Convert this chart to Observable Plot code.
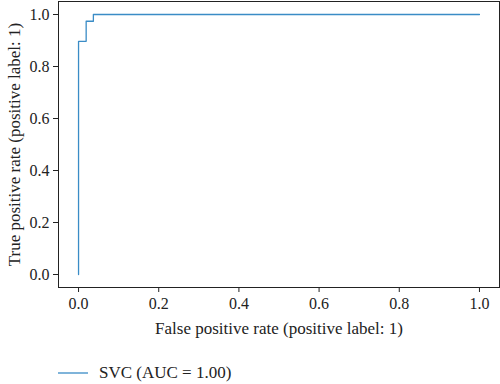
<!DOCTYPE html>
<html>
<head>
<meta charset="utf-8">
<script src="https://cdn.jsdelivr.net/npm/d3@7"></script>
<script src="https://cdn.jsdelivr.net/npm/@observablehq/plot@0.6"></script>
<style>
  html, body { margin: 0; padding: 0; background: #fff; }
  body { width: 500px; height: 384px; overflow: hidden; font-family: "Liberation Serif", "DejaVu Serif", serif; }
  #chart svg { display: block; }
  #legend { position: absolute; left: 58px; top: 363px; display: flex; align-items: center; font-size: 17px; color: #222; line-height: 20px; }
</style>
</head>
<body>
<div id="chart"></div>
<div id="legend"><svg width="30" height="20"><line x1="0" x2="30" y1="10" y2="10" stroke="#3a8cc6" stroke-width="1.3"></line></svg><span id="legendText" style="margin-left:11px"></span></div>
<script>
const fpr = [0, 0, 0.019, 0.019, 0.037, 0.037, 1];
const tpr = [0, 0.897, 0.897, 0.974, 0.974, 1, 1];
const ticks = [0, 0.2, 0.4, 0.6, 0.8, 1.0];
const xLabel = "False positive rate (positive label: 1)";
const yLabel = "True positive rate (positive label: 1)";
const seriesName = "SVC (AUC = 1.00)";

document.getElementById("legendText").textContent = seriesName;
const data = fpr.map((f, i) => ({fpr: f, tpr: tpr[i]}));

const chart = Plot.plot({
  width: 500,
  height: 345,
  marginLeft: 58,
  marginRight: 1,
  marginTop: 1,
  marginBottom: 58,
  style: {fontFamily: "Liberation Serif, serif", fontSize: "16px", color: "#222", background: "#fff"},
  x: {domain: [-0.05, 1.05], label: null},
  y: {domain: [-0.05, 1.05], label: null},
  marks: [
    Plot.axisX({ticks: ticks, tickFormat: d3.format(".1f"), tickSize: 5, tickPadding: 5, label: null, fontSize: 16}),
    Plot.axisY({ticks: ticks, tickFormat: d3.format(".1f"), tickSize: 5, tickPadding: 4, label: null, fontSize: 16}),
    Plot.line(data, {x: "fpr", y: "tpr", stroke: "#3a8cc6", strokeWidth: 1.3}),
    Plot.frame({stroke: "#222", strokeWidth: 1}),
    Plot.text([xLabel], {frameAnchor: "bottom", dy: 41, text: d => d, fontSize: 17, lineAnchor: "middle"}),
    Plot.text([yLabel], {frameAnchor: "left", dx: -44, rotate: -90, textAnchor: "middle", lineAnchor: "middle", text: d => d, fontSize: 17})
  ]
});
document.getElementById("chart").appendChild(chart);
</script>
</body>
</html>
